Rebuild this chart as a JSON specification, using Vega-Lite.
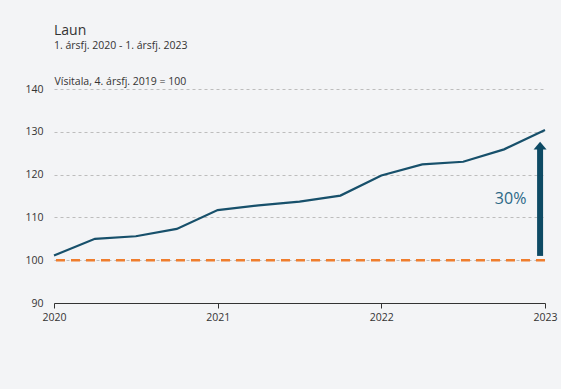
{
  "$schema": "https://vega.github.io/schema/vega-lite/v6.json",
  "width": 491,
  "height": 214,
  "autosize": {"type": "none"},
  "padding": {"left": 54, "top": 89, "right": 16, "bottom": 86},
  "background": "#f3f4f6",
  "config": {
    "view": {"stroke": null},
    "font": "Open Sans",
    "axis": {"labelFont": "Open Sans", "labelColor": "#333333", "labelFontSize": 10.5}
  },
  "title": {
    "text": "Laun",
    "subtitle": "1. ársfj. 2020 - 1. ársfj. 2023",
    "anchor": "start",
    "frame": "group",
    "orient": "top",
    "offset": 25,
    "font": "Open Sans",
    "fontSize": 14,
    "fontWeight": "normal",
    "color": "#333333",
    "subtitleFont": "Open Sans",
    "subtitleFontSize": 10.5,
    "subtitleColor": "#333333",
    "subtitlePadding": 3
  },
  "datasets": {
    "laun": [
      {"ar": 2020.0, "visitala": 101.1},
      {"ar": 2020.25, "visitala": 105.0},
      {"ar": 2020.5, "visitala": 105.6},
      {"ar": 2020.75, "visitala": 107.3},
      {"ar": 2021.0, "visitala": 111.7},
      {"ar": 2021.25, "visitala": 112.8},
      {"ar": 2021.5, "visitala": 113.7},
      {"ar": 2021.75, "visitala": 115.1},
      {"ar": 2022.0, "visitala": 119.8},
      {"ar": 2022.25, "visitala": 122.4},
      {"ar": 2022.5, "visitala": 123.0},
      {"ar": 2022.75, "visitala": 125.9},
      {"ar": 2023.0, "visitala": 130.4}
    ],
    "grunnur": [{"visitala": 100}],
    "or": [{"ar": 2022.97, "fra": 101, "til": 126.0, "oddur": 126.3}],
    "merki": [{"ar": 2022.79, "visitala": 114.2, "texti": "30%"}]
  },
  "layer": [
    {
      "data": {"name": "laun"},
      "mark": {"type": "line", "color": "#17506b", "strokeWidth": 2.2},
      "encoding": {
        "x": {
          "field": "ar",
          "type": "quantitative",
          "scale": {"domain": [2020, 2023], "nice": false, "zero": false},
          "axis": {
            "title": null,
            "values": [2020, 2021, 2022, 2023],
            "format": "d",
            "grid": false,
            "domainColor": "#333333",
            "tickColor": "#333333",
            "tickSize": 5,
            "labelPadding": 4,
            "labelFlush": false
          }
        },
        "y": {
          "field": "visitala",
          "type": "quantitative",
          "scale": {"domain": [90, 140], "nice": false, "zero": false},
          "axis": {
            "title": "Vísitala, 4. ársfj. 2019 = 100",
            "titleAngle": 0,
            "titleAlign": "left",
            "titleBaseline": "alphabetic",
            "titleX": 0,
            "titleY": -5,
            "titleFont": "Open Sans",
            "titleFontSize": 10.5,
            "titleFontWeight": "normal",
            "titleColor": "#333333",
            "values": [90, 100, 110, 120, 130, 140],
            "domain": false,
            "ticks": false,
            "labelPadding": 11,
            "gridColor": "#bdbdbd",
            "gridDash": [3, 3],
            "gridWidth": 1
          }
        }
      }
    },
    {
      "data": {"name": "grunnur"},
      "mark": {"type": "rule", "color": "#ef7d2d", "strokeWidth": 2.5, "strokeDash": [9, 6]},
      "encoding": {"y": {"field": "visitala", "type": "quantitative"}}
    },
    {
      "data": {"name": "or"},
      "mark": {"type": "rule", "color": "#0d4a64", "strokeWidth": 6},
      "encoding": {
        "x": {"field": "ar", "type": "quantitative"},
        "y": {"field": "fra", "type": "quantitative"},
        "y2": {"field": "til"}
      }
    },
    {
      "data": {"name": "or"},
      "mark": {"type": "point", "filled": true, "color": "#0d4a64", "opacity": 1, "size": 169, "shape": "M-1,0.3L1,0.3L0,-0.9Z"},
      "encoding": {
        "x": {"field": "ar", "type": "quantitative"},
        "y": {"field": "oddur", "type": "quantitative"}
      }
    },
    {
      "data": {"name": "merki"},
      "mark": {"type": "text", "color": "#2b6886", "fontSize": 16, "font": "Open Sans", "align": "center", "baseline": "middle"},
      "encoding": {
        "x": {"field": "ar", "type": "quantitative"},
        "y": {"field": "visitala", "type": "quantitative"},
        "text": {"field": "texti"}
      }
    }
  ]
}
